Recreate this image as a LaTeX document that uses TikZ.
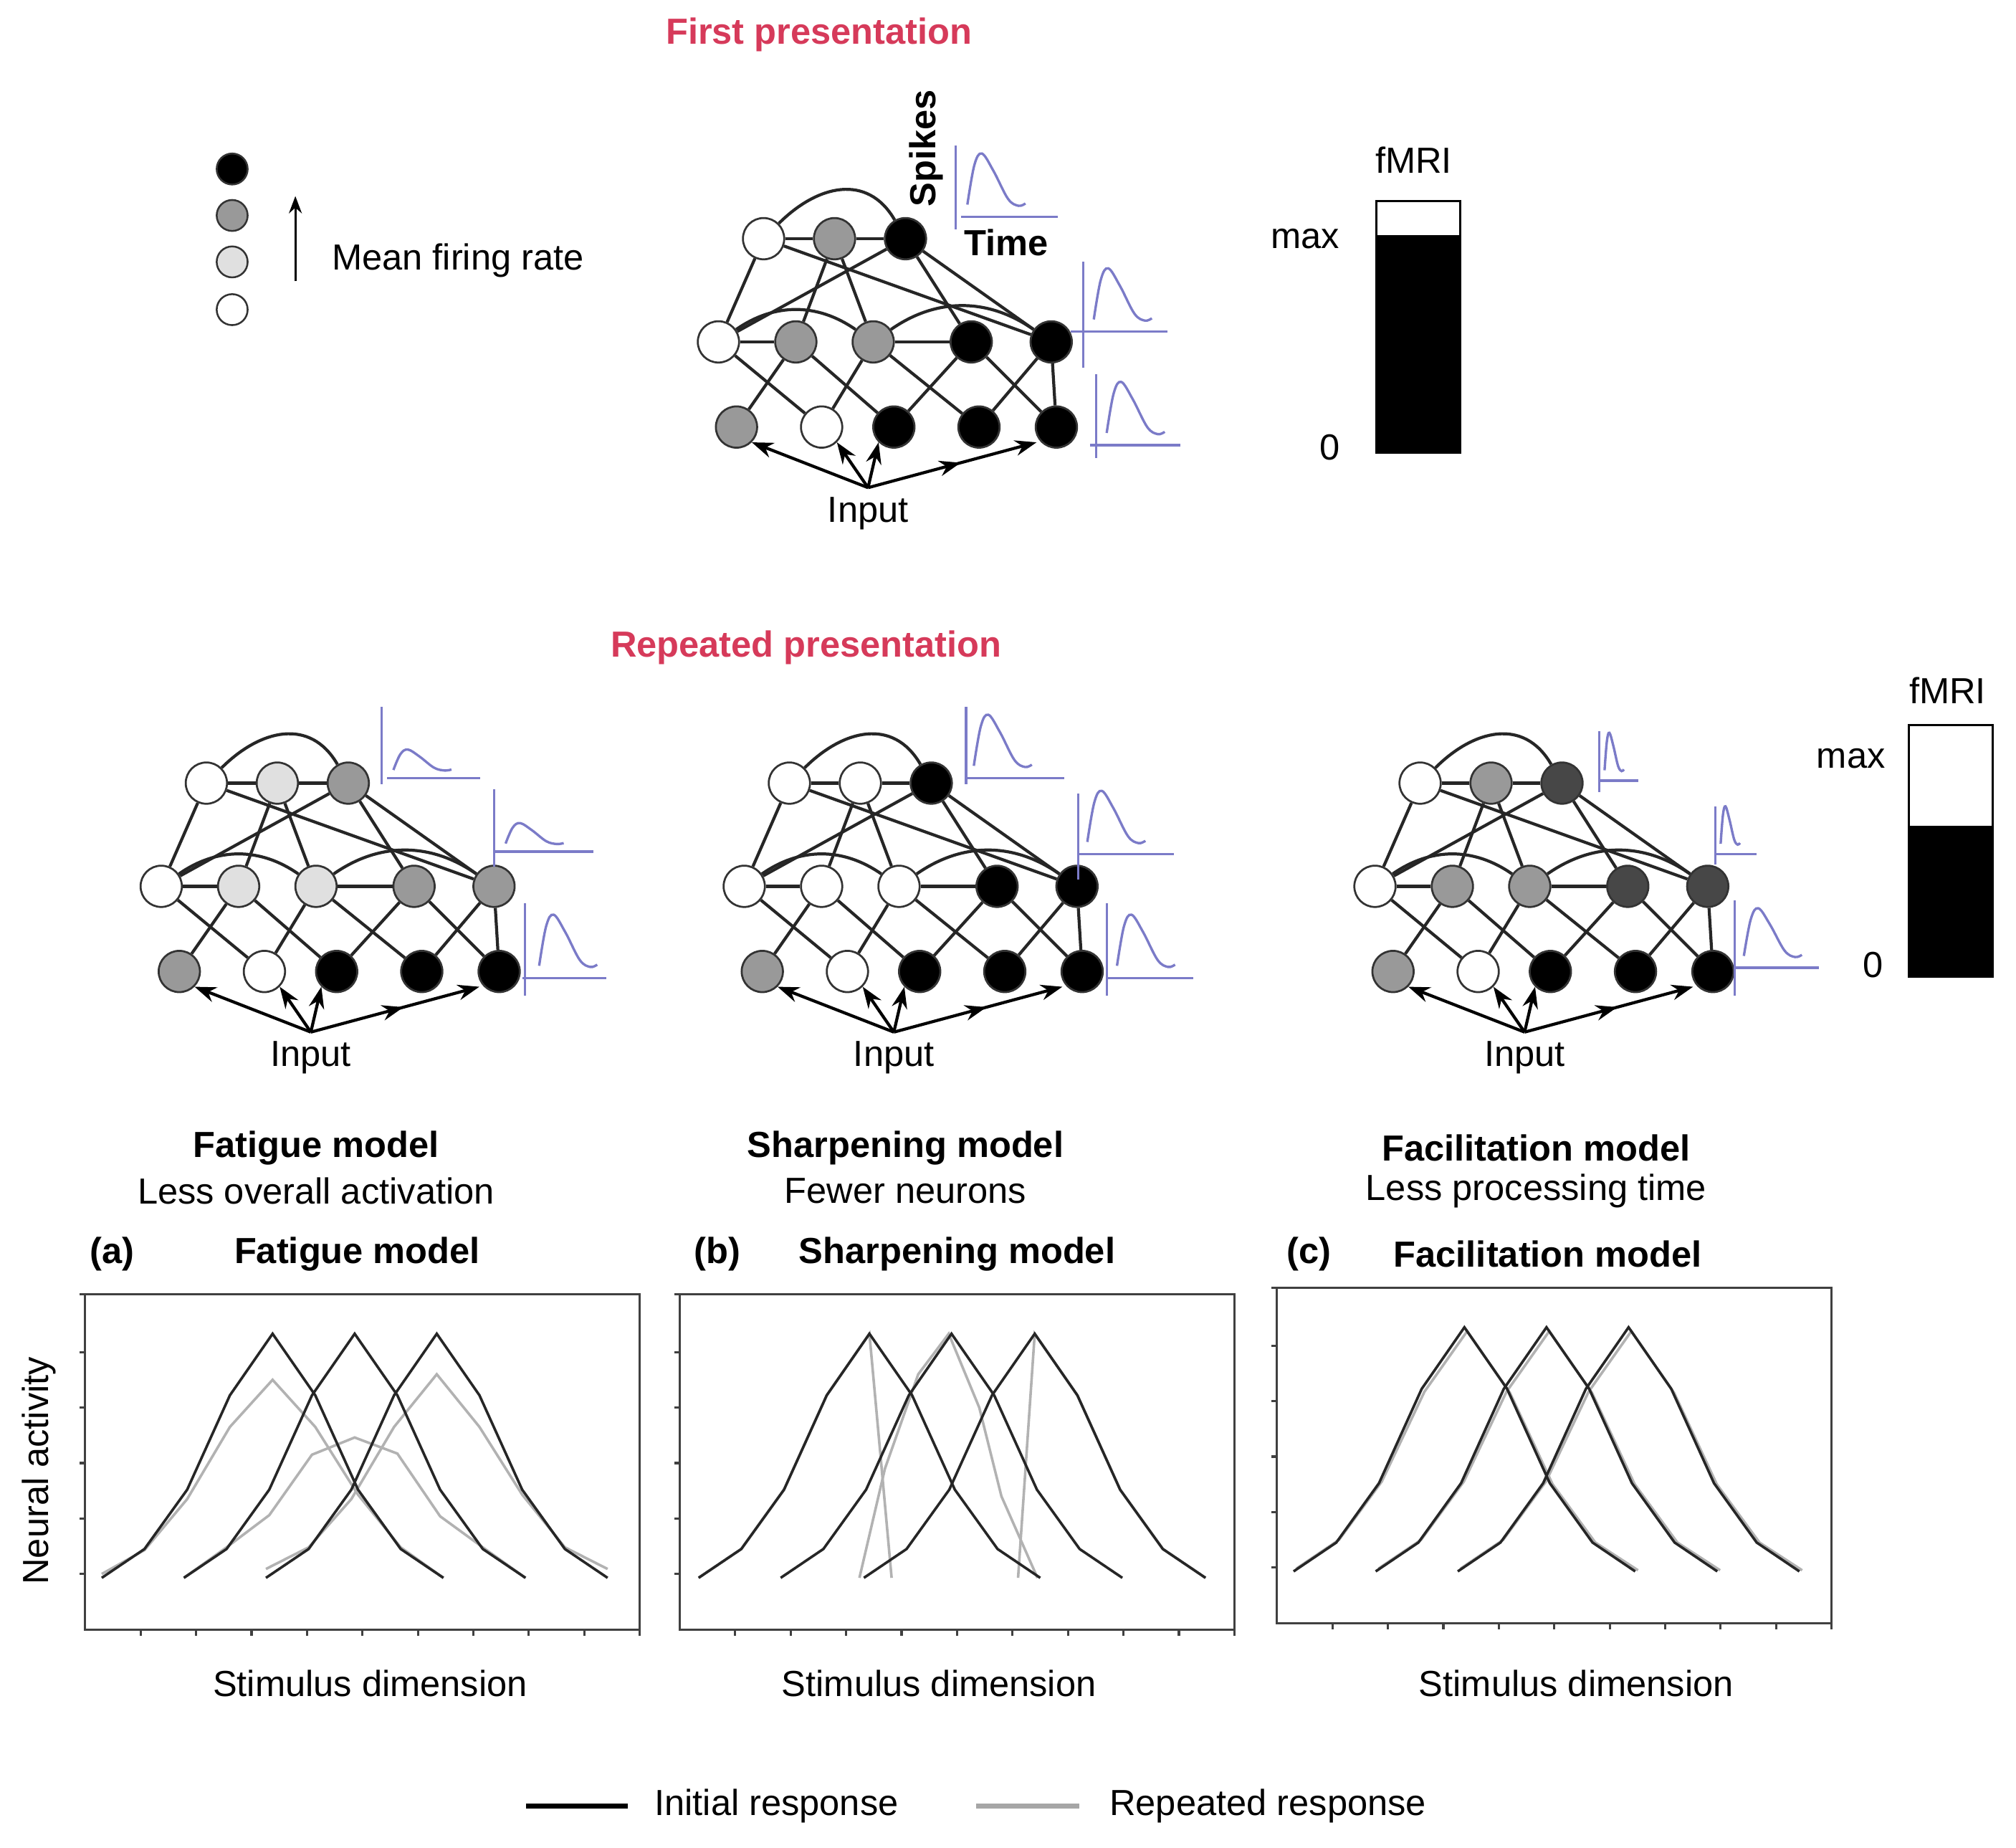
\documentclass[tikz,border=0pt]{standalone}
\usepackage{fontspec}
\setmainfont{Liberation Sans}
\usetikzlibrary{arrows.meta,decorations.markings}
\definecolor{ttl}{HTML}{D63A5A}
\definecolor{spk}{HTML}{7B7BC8}
\colorlet{lg}{black!12}
\colorlet{mg}{black!40}
\colorlet{dg}{black!72}
\tikzset{
  neuron/.style={circle,draw=black!80,line width=1.3pt,minimum size=9.6mm,inner sep=0pt},
  leg/.style={circle,draw=black!80,line width=1.2pt,minimum size=7.2mm,inner sep=0pt},
  edge/.style={line width=2pt,black!85},
  inarr/.style={line width=2pt,-{Stealth[length=5mm,width=3.6mm]}},
  sp/.style={spk,line width=1.6pt},
  txt/.style={font=\fontsize{24}{28}\selectfont},
  btxt/.style={font=\fontsize{24}{28}\selectfont\bfseries},
  blk/.style={line width=1.7pt,black!85},
  gry/.style={line width=1.7pt,black!30},
  frame/.style={line width=1.5pt,black!75},
}
\newcommand\mynet[6]{%
 \begin{scope}[shift={(#2,#3)}]
  \foreach \c [count=\i] in {#4}{\pgfmathsetmacro\xx{{592,647,702}[\i-1]}\node[neuron,fill=\c] (#1A\i) at (\xx,185) {};}
  \foreach \c [count=\i] in {#5}{\pgfmathsetmacro\xx{{557,617,677,753,815}[\i-1]}\node[neuron,fill=\c] (#1B\i) at (\xx,265) {};}
  \foreach \c [count=\i] in {#6}{\pgfmathsetmacro\xx{{571,637,693,759,819}[\i-1]}\node[neuron,fill=\c] (#1C\i) at (\xx,331) {};}
  \coordinate (#1I) at (673,378);
  \node[txt] (#1L) at (673,398) {Input};
 \end{scope}
 \foreach \a/\b in {A1/A2,A2/A3,A1/B1,A1/B5,A2/B2,A2/B3,A3/B1,A3/B4,A3/B5,B1/B2,B3/B4,
   B1/C2,B2/C1,B2/C3,B3/C2,B3/C4,B4/C3,B4/C5,B5/C4,B5/C5}
   \draw[edge] (#1\a) -- (#1\b);
 \draw[edge] (#1A1) to[out=45,in=120,looseness=1.2] (#1A3);
 \draw[edge] (#1B1) to[out=35,in=145] (#1B3);
 \draw[edge] (#1B3) to[out=35,in=145] (#1B5);
 \draw[inarr] (#1I) -- (#1C1.south east);
 \draw[inarr] (#1I) -- (#1C2.south east);
 \draw[inarr] (#1I) -- (#1C3.south west);
 \draw[inarr,postaction={decorate},decoration={markings,mark=at position 0.55 with {\arrow{Stealth[length=5mm,width=3.6mm]}}}] (#1I) -- ([xshift=-3]#1C5.south west);
}
\newcommand\spkplot[9]{%
 \draw[sp] (#1,#2) -- (#1,#3);
 \draw[sp] (#5,#4) -- (#6,#4);
 \draw[sp] plot[smooth,tension=0.6] coordinates {(#7,#4-0.12*#9-4) (#7+0.12*#8,#4-0.8*#9-4) (#7+0.25*#8,#4-#9-4) (#7+0.45*#8,#4-0.7*#9-4) (#7+0.7*#8,#4-0.22*#9-4) (#7+0.88*#8,#4-0.1*#9-4) (#7+#8,#4-0.14*#9-4)};
}
\begin{document}
\begin{tikzpicture}[x=0.3mm,y=-0.3mm]
\useasboundingbox (0,0) rectangle (1563,1432);
\node[btxt,text=ttl] (t1) at (635,27) {First presentation};
\node[btxt,text=ttl] (t2) at (625,502) {Repeated presentation};
\node[leg,fill=black] (l1) at (180,131) {};
\node[leg,fill=mg] (l2) at (180,167) {};
\node[leg,fill=lg] (l3) at (180,203) {};
\node[leg,fill=white] (l4) at (180,240) {};
\coordinate (la) at (229,218); \coordinate (lb) at (229,152);
\draw[line width=1.5pt,-{Stealth[length=4mm,width=3mm]}] (la) -- (lb);
\node[txt] (mfr) at (355,202) {Mean firing rate};
\mynet{T}{0}{0}{white,mg,black}{white,mg,mg,black,black}{mg,white,black,black,black}
\node[btxt,rotate=90] (spikes) at (718,115) {Spikes};
\node[btxt] (time) at (780,188) {Time};
\spkplot{741}{113}{178}{168}{745}{820}{750}{45}{45}
\spkplot{840}{203}{285}{257}{830}{905}{848}{45}{45}
\spkplot{850}{290}{355}{345}{845}{915}{858}{45}{45}
\node[txt] (f1) at (1096,124) {fMRI};
\node[txt] (m1) at (1012,185) {max};
\node[txt] (z1) at (1031,347) {0};
\draw[line width=1.4pt,fill=white] (1067,156) rectangle (1132,351);
\fill[black] (1067,182) rectangle (1132,351);
\mynet{F}{-432}{422}{white,lg,mg}{white,lg,lg,mg,mg}{mg,white,black,black,black}
\mynet{S}{20}{422}{white,white,black}{white,white,white,black,black}{mg,white,black,black,black}
\mynet{C}{509}{422}{white,mg,dg}{white,mg,mg,dg,dg}{mg,white,black,black,black}
\spkplot{296}{548}{608}{603}{300}{372}{305}{45}{18}
\spkplot{383}{612}{672}{660}{383}{460}{392}{45}{18}
\spkplot{407}{700}{772}{758}{405}{470}{418}{45}{45}
\spkplot{749}{548}{608}{603}{750}{825}{755}{45}{45}
\spkplot{836}{615}{682}{662}{835}{910}{843}{45}{45}
\spkplot{858}{700}{772}{758}{858}{925}{866}{45}{45}
\spkplot{1240}{567}{614}{605}{1240}{1270}{1244}{15}{33}
\spkplot{1330}{625}{670}{662}{1330}{1362}{1334}{15}{33}
\spkplot{1345}{698}{772}{750}{1345}{1410}{1352}{45}{42}
\node[txt] (f2) at (1510,535) {fMRI};
\node[txt] (m2) at (1435,588) {max};
\node[txt] (z2) at (1452,748) {0};
\draw[line width=1.4pt,fill=white] (1480,562) rectangle (1545,757);
\fill[black] (1480,640) rectangle (1545,757);
\node[btxt] (ma) at (245,890) {Fatigue model};
\node[txt] (da) at (245,923) {Less overall activation};
\node[btxt] (mb) at (702,890) {Sharpening model};
\node[txt] (db) at (702,923) {Fewer neurons};
\node[btxt] (mc) at (1191,890) {Facilitation model};
\node[txt] (dc) at (1191,923) {Less processing time};
\node[btxt] (pa) at (87,972) {(a)};
\node[btxt] (qa) at (277,972) {Fatigue model};
\node[btxt] (pb) at (556,972) {(b)};
\node[btxt] (qb) at (742,972) {Sharpening model};
\node[btxt] (pc) at (1015,972) {(c)};
\node[btxt] (qc) at (1200,972) {Facilitation model};
\node[txt,rotate=90] (na) at (30,1140) {Neural activity};
\node[txt] (sa) at (287,1305) {Stimulus dimension};
\node[txt] (sb) at (728,1305) {Stimulus dimension};
\node[txt] (sc) at (1222,1305) {Stimulus dimension};
\foreach \ox/\oy in {66/1263,527/1263,990/1258}{
 \begin{scope}[shift={(\ox,\oy)},x=12.9mm,y=12.9mm]
  \draw[frame] (0,0) rectangle (10,6.04);
  \foreach \t in {1,...,10} \draw[frame] (\t,0) -- (\t,-0.12);
  \foreach \t in {1,...,5} \draw[frame] (0,\t) -- (-0.1,\t);
  \draw[frame] (0,6.04) -- (-0.1,6.04);
 \end{scope}}
\begin{scope}[shift={(66,1263)},x=12.9mm,y=12.9mm]
 \draw[gry] plot coordinates {(0.3,1.0)(1.07,1.43)(1.84,2.35)(2.61,3.65)(3.38,4.5)(4.15,3.65)(4.92,2.43)(5.69,1.48)(6.46,0.93)};
 \draw[gry] plot coordinates {(1.78,0.93)(2.55,1.48)(3.32,2.06)(4.09,3.15)(4.86,3.46)(5.63,3.17)(6.4,2.04)(7.17,1.48)(7.94,0.93)};
 \draw[gry] plot coordinates {(3.26,1.09)(4.03,1.48)(4.8,2.35)(5.57,3.65)(6.34,4.6)(7.11,3.65)(7.88,2.43)(8.65,1.48)(9.42,1.09)};
 \foreach \s in {0.3,1.78,3.26}
  \draw[blk] plot coordinates {(\s,0.93)(\s+0.77,1.45)(\s+1.54,2.52)(\s+2.31,4.22)(\s+3.08,5.33)(\s+3.85,4.22)(\s+4.62,2.52)(\s+5.39,1.45)(\s+6.16,0.93)};
\end{scope}
\begin{scope}[shift={(527,1263)},x=12.9mm,y=12.9mm]
 \draw[gry] plot coordinates {(0.34,0.93)(1.11,1.45)(1.88,2.52)(2.65,4.22)(3.42,5.33)(3.82,0.93)};
 \draw[gry] plot coordinates {(3.24,0.93)(3.7,2.9)(4.3,4.6)(4.85,5.33)(5.4,4.0)(5.8,2.4)(6.45,0.93)};
 \draw[gry] plot coordinates {(6.1,0.93)(6.4,5.33)(7.17,4.22)(7.94,2.52)(8.71,1.45)(9.48,0.93)};
 \foreach \s in {0.34,1.82,3.32}
  \draw[blk] plot coordinates {(\s,0.93)(\s+0.77,1.45)(\s+1.54,2.52)(\s+2.31,4.22)(\s+3.08,5.33)(\s+3.85,4.22)(\s+4.62,2.52)(\s+5.39,1.45)(\s+6.16,0.93)};
\end{scope}
\begin{scope}[shift={(990,1258)},x=12.9mm,y=12.9mm]
 \foreach \s in {0.35,1.83,3.31}
  \draw[gry] plot coordinates {(\s,0.98)(\s+0.77,1.5)(\s+1.54,2.55)(\s+2.31,4.17)(\s+3.08,5.26)(\s+3.85,4.15)(\s+4.62,2.5)(\s+5.39,1.45)(\s+6.16,0.95)};
 \foreach \s in {0.3,1.78,3.26}
  \draw[blk] plot coordinates {(\s,0.93)(\s+0.77,1.45)(\s+1.54,2.52)(\s+2.31,4.22)(\s+3.08,5.33)(\s+3.85,4.22)(\s+4.62,2.52)(\s+5.39,1.45)(\s+6.16,0.93)};
\end{scope}
\coordinate (k1) at (408,1400); \coordinate (k2) at (487,1400);
\coordinate (k3) at (757,1400); \coordinate (k4) at (837,1400);
\draw[line width=3.5pt,black] (k1) -- (k2);
\draw[line width=3.5pt,black!35] (k3) -- (k4);
\node[txt] (ir) at (602,1400) {Initial response};
\node[txt] (rr) at (983,1400) {Repeated response};
\end{tikzpicture}
\end{document}
